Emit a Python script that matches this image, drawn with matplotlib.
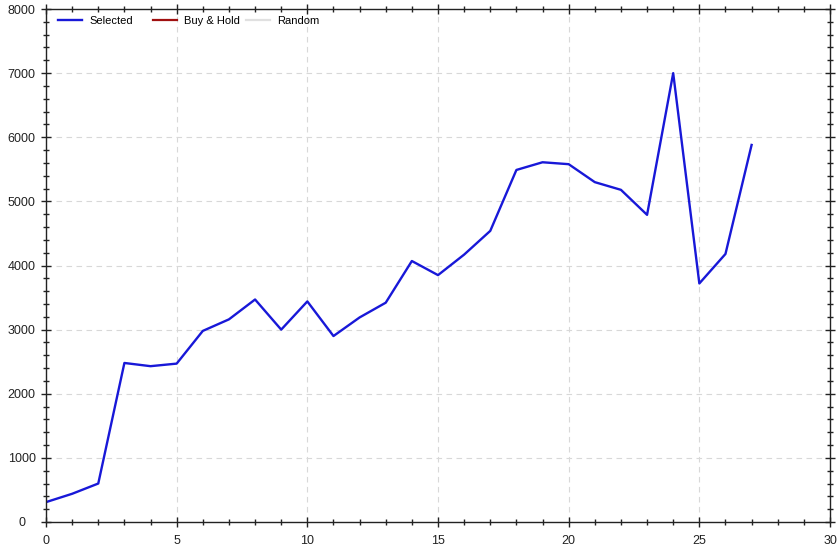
import matplotlib
matplotlib.use("Agg")
import matplotlib.pyplot as plt
from matplotlib.ticker import MultipleLocator
from matplotlib.legend import Legend

plt.rcParams['font.family'] = ['Liberation Sans', 'DejaVu Sans']

periods = list(range(28))
selected = [310, 440, 600, 2480, 2430, 2470, 2980, 3160, 3470, 3000, 3440, 2900,
            3190, 3420, 4070, 3850, 4170, 4540, 5490, 5610, 5580, 5300, 5180, 4790,
            7000, 3720, 4180, 5880]
buy_hold = []
random_vals = []

fig = plt.figure(figsize=(8.4, 5.47), dpi=100)
ax = fig.add_axes([46/840, 25/547, 784/840, 513/547])

l1, = ax.plot(periods, selected, color='#1818d8', lw=1.7, label='Selected')
l2, = ax.plot(buy_hold, buy_hold, color='#a01010', lw=1.6, label='Buy & Hold')
l3, = ax.plot(random_vals, random_vals, color='#e0e0e0', lw=1.6, label='Random')

ax.set_xlim(0, 30)
ax.set_ylim(0, 8000)
ax.xaxis.set_major_locator(MultipleLocator(5))
ax.xaxis.set_minor_locator(MultipleLocator(1))
ax.yaxis.set_major_locator(MultipleLocator(1000))
ax.yaxis.set_minor_locator(MultipleLocator(200))
ax.tick_params(which='both', direction='inout', top=True, right=True,
               labeltop=False, labelright=False, color='#222222')
ax.tick_params(which='major', length=7, width=1, labelsize=9, labelcolor='#222222')
ax.tick_params(which='minor', length=4, width=1)
ax.tick_params(axis='x', which='major', pad=6)
ax.tick_params(axis='y', which='major', pad=14)
for lbl in ax.get_yticklabels():
    lbl.set_horizontalalignment('center')
for s in ax.spines.values():
    s.set_color('#222222')
    s.set_linewidth(1)
ax.grid(True, which='major', color='#d8d8d8', linestyle=(0, (5, 4)), lw=0.8)
ax.set_axisbelow(True)

for handle, xpx in zip([l1, l2, l3], [12, 107, 200]):
    lg = Legend(ax, [handle], [handle.get_label()], loc='upper left', frameon=False,
                fontsize=8, handlelength=2.2, handletextpad=0.6, borderpad=0,
                borderaxespad=0, bbox_to_anchor=(xpx / 784, 1 - 7 / 513))
    ax.add_artist(lg)

fig.savefig('out.png', dpi=100)
